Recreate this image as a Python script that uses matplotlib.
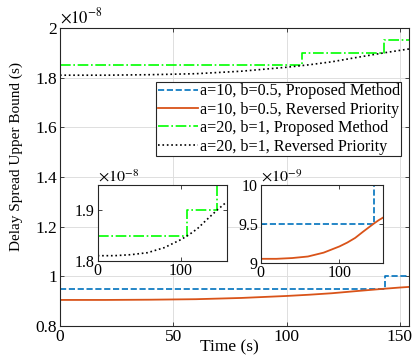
import matplotlib
matplotlib.use("Agg")
import matplotlib.pyplot as plt
import numpy as np

plt.rcParams['font.family'] = ['Liberation Serif', 'DejaVu Serif']
plt.rcParams['mathtext.fontset'] = 'stix'

# time samples (s)
t_curve = [0, 20, 40, 60, 80, 100, 110, 120, 130, 143, 150, 155]
# a=10, b=0.5, reversed priority (x1e-9 s)
rev_10 = [9.05, 9.05, 9.06, 9.08, 9.13, 9.21, 9.26, 9.32, 9.40, 9.50, 9.55, 9.58]
# a=20, b=1, reversed priority (x1e-8 s)
rev_20 = [1.810, 1.810, 1.812, 1.816, 1.826, 1.842, 1.852, 1.864, 1.880, 1.900, 1.910, 1.917]
# proposed method, step curves
t_step10 = [0, 143.5, 143.5, 155]
prop_10 = [9.5, 9.5, 10.0, 10.0]      # x1e-9 s
t_step20 = [0, 107, 107, 143, 143, 155]
prop_20 = [1.85, 1.85, 1.90, 1.90, 1.95, 1.95]  # x1e-8 s

labels = ['a=10, b=0.5, Proposed Method', 'a=10, b=0.5, Reversed Priority',
          'a=20, b=1, Proposed Method', 'a=20, b=1, Reversed Priority']

c_blue = '#0072BD'
c_orange = '#D95319'
c_green = '#00FF00'
c_black = 'black'
edge = '#262626'

def style(ax, size):
    for s in ax.spines.values():
        s.set_color(edge)
        s.set_linewidth(0.8)
    ax.tick_params(direction='in', top=True, right=True, labelsize=size,
                   colors=edge, length=3, width=0.6, pad=2)
    for lab in ax.get_xticklabels() + ax.get_yticklabels():
        lab.set_color('black')

fig = plt.figure(figsize=(4.12, 3.6), dpi=100)
ax = fig.add_axes([0.1456, 0.0944, 0.847, 0.8278])

ax.plot(t_step10, np.array(prop_10) / 10, '--', color=c_blue, lw=1.2, label=labels[0])
ax.plot(t_curve, np.array(rev_10) / 10, '-', color=c_orange, lw=1.3, label=labels[1])
ax.plot(t_step20, prop_20, '-.', color=c_green, lw=1.2, label=labels[2])
ax.plot(t_curve, rev_20, ':', color=c_black, lw=1.2, label=labels[3])

ax.set_xlim(0, 154)
ax.set_ylim(0.8, 2.0)
ax.set_xticks([0, 50, 100, 150])
ax.set_yticks([0.8, 1, 1.2, 1.4, 1.6, 1.8, 2])
ax.set_yticklabels(['0.8', '1', '1.2', '1.4', '1.6', '1.8', '2'])
ax.grid(True, color='#dedede', lw=0.7)
style(ax, 12.5)
ax.set_xlabel('Time (s)', fontsize=12.5)
ax.xaxis.set_label_coords(0.485, -0.045)
ax.set_ylabel('Delay Spread Upper Bound (s)', fontsize=11)
ax.yaxis.set_label_coords(-0.106, 0.57)
ax.text(0.0, 1.003, r'$\times10^{-8}$', transform=ax.transAxes, fontsize=12,
        ha='left', va='bottom')

leg = ax.legend(loc='upper right', bbox_to_anchor=(0.978, 0.82), fontsize=11.6,
                frameon=True, fancybox=False, framealpha=1, edgecolor=edge,
                handlelength=2.5, handletextpad=0.1, borderpad=0.1,
                labelspacing=0.15, borderaxespad=0)
leg.get_frame().set_linewidth(0.8)

# inset for a=20, b=1
ax1 = fig.add_axes([0.2371, 0.2758, 0.3131, 0.2094])
ax1.plot(t_step20, prop_20, '-.', color=c_green, lw=1.2)
ax1.plot(t_curve, rev_20, ':', color=c_black, lw=1.2)
ax1.set_xlim(0, 155)
ax1.set_ylim(1.8, 1.95)
ax1.set_xticks([0, 100])
ax1.set_yticks([1.8, 1.9])
style(ax1, 11.5)
ax1.text(0.0, 1.0, r'$\times10^{-8}$', transform=ax1.transAxes, fontsize=11.5,
         ha='left', va='bottom')

# inset for a=10, b=0.5
ax2 = fig.add_axes([0.6328, 0.2703, 0.2961, 0.2150])
ax2.plot(t_step10, prop_10, '--', color=c_blue, lw=1.2)
ax2.plot(t_curve, rev_10, '-', color=c_orange, lw=1.3)
ax2.set_xlim(0, 155)
ax2.set_ylim(9, 10)
ax2.set_xticks([0, 100])
ax2.set_yticks([9, 9.5, 10])
ax2.set_yticklabels(['9', '9.5', '10'])
style(ax2, 11.5)
ax2.text(0.0, 1.0, r'$\times10^{-9}$', transform=ax2.transAxes, fontsize=11.5,
         ha='left', va='bottom')

fig.savefig('out.png', dpi=100)
